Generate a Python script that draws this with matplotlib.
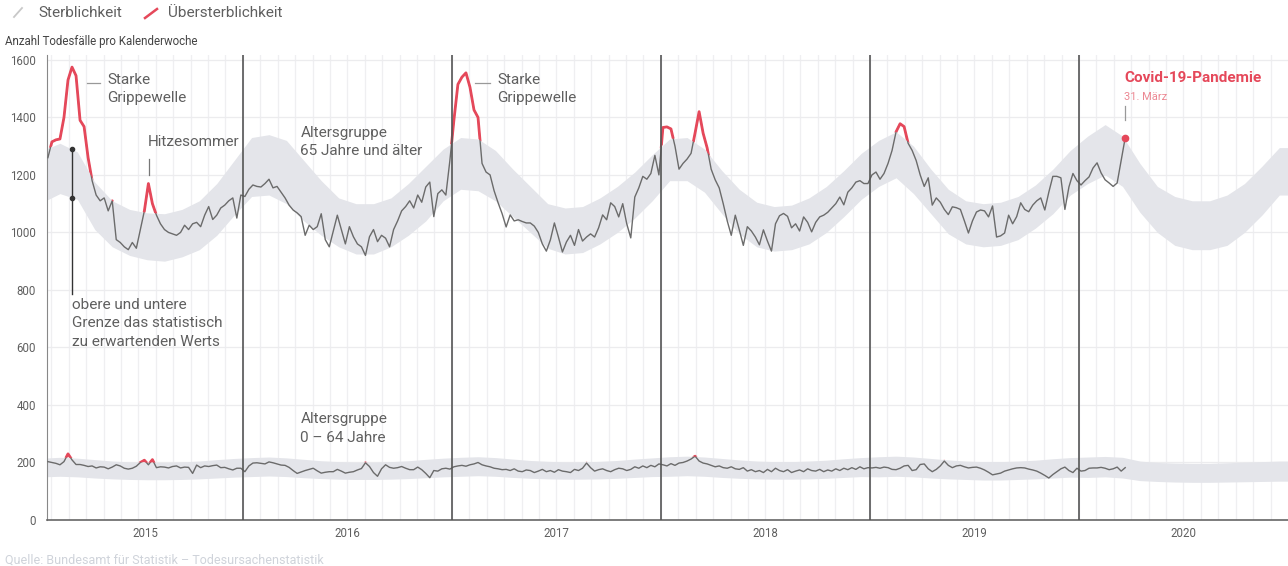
import numpy as np
import matplotlib
matplotlib.use("Agg")
import matplotlib.pyplot as plt
from matplotlib.patches import Polygon
from matplotlib.lines import Line2D

plt.rcParams["font.family"] = ["Roboto", "DejaVu Sans"]

# weekly deaths, age group 65+ (2015 starts with calendar week 4)
old_2015 = [1260, 1315, 1322, 1325, 1400, 1530, 1575, 1545, 1390, 1368, 1260, 1180,
            1130, 1110, 1120, 1075, 1110, 975, 965, 950, 940, 965, 945, 1010, 1075,
            1170, 1100, 1060, 1030, 1010, 1000, 995, 990, 1000, 1025, 1010, 1030,
            1035, 1020, 1060, 1090, 1045, 1060, 1085, 1095, 1110, 1120, 1050, 1130]
old_2016 = [1125, 1150, 1165, 1160, 1158, 1170, 1185, 1155, 1160, 1140, 1120, 1095,
            1078, 1068, 1055, 990, 1025, 1010, 1020, 1065, 975, 950, 1005, 1060, 1010,
            960, 1020, 985, 960, 950, 920, 985, 1010, 968, 990, 980, 950, 1010, 1040,
            1075, 1090, 1110, 1085, 1130, 1105, 1158, 1175, 1055, 1135, 1148, 1130, 1250]
old_2017 = [1390, 1515, 1540, 1555, 1505, 1426, 1400, 1240, 1210, 1200, 1145, 1103,
            1065, 1019, 1061, 1040, 1044, 1038, 1033, 1033, 1022, 1000, 960, 935, 974,
            1033, 984, 932, 967, 990, 955, 1010, 970, 984, 995, 984, 1016, 1061, 1044,
            1103, 1090, 1054, 1100, 1030, 981, 1123, 1155, 1195, 1185, 1205, 1268, 1200]
old_2018 = [1365, 1367, 1360, 1300, 1220, 1240, 1255, 1275, 1346, 1420, 1345, 1294,
            1220, 1183, 1155, 1100, 1040, 990, 1060, 1009, 955, 1020, 1005, 984, 957,
            1009, 970, 935, 1030, 1058, 1066, 1056, 1016, 1030, 1005, 1054, 1035, 1002,
            1035, 1054, 1060, 1070, 1085, 1100, 1123, 1096, 1140, 1155, 1175, 1180,
            1170, 1170]
old_2019 = [1200, 1210, 1185, 1205, 1240, 1285, 1350, 1378, 1368, 1310, 1285, 1250,
            1200, 1160, 1190, 1095, 1120, 1105, 1080, 1062, 1089, 1086, 1080, 1040, 998,
            1040, 1071, 1078, 1075, 1054, 1092, 984, 988, 998, 1060, 1030, 1055, 1103,
            1080, 1072, 1095, 1110, 1120, 1078, 1140, 1195, 1195, 1190, 1080, 1158,
            1205, 1180]
old_2020 = [1165, 1180, 1193, 1224, 1242, 1207, 1183, 1172, 1160, 1172, 1250, 1329]

# weekly deaths, age group 0-64
young_2015 = [203, 200, 197, 192, 203, 230, 209, 193, 193, 190, 186, 188, 181, 185,
              184, 178, 184, 192, 188, 180, 177, 180, 187, 200, 208, 192, 210, 182,
              185, 184, 181, 186, 188, 181, 184, 183, 162, 191, 182, 188, 186, 189,
              191, 182, 183, 178, 174, 180, 180]
young_2016 = [168, 188, 198, 199, 197, 195, 202, 199, 195, 191, 190, 183, 172, 162,
              167, 172, 176, 180, 171, 163, 166, 168, 168, 176, 170, 163, 166, 168,
              174, 179, 199, 186, 165, 152, 178, 192, 183, 180, 182, 186, 180, 175,
              175, 184, 175, 162, 147, 172, 170, 178, 180, 177]
young_2017 = [185, 188, 190, 187, 192, 195, 200, 192, 188, 185, 180, 178, 175, 176,
              172, 178, 170, 168, 174, 172, 165, 170, 176, 168, 172, 166, 175, 170,
              168, 165, 176, 172, 180, 198, 182, 170, 175, 178, 172, 168, 175, 180,
              178, 172, 176, 185, 180, 188, 182, 190, 185, 195]
young_2018 = [192, 188, 196, 190, 198, 200, 205, 212, 222, 205, 198, 195, 190, 185,
              188, 182, 180, 185, 178, 176, 182, 170, 175, 168, 172, 165, 176, 168,
              180, 172, 168, 175, 165, 170, 174, 168, 178, 172, 170, 176, 168, 174,
              170, 178, 172, 180, 175, 182, 176, 185, 178, 182]
young_2019 = [181, 183, 180, 184, 182, 176, 175, 180, 188, 190, 172, 175, 193, 195,
              178, 168, 176, 188, 205, 190, 182, 188, 190, 185, 181, 183, 184, 180,
              174, 166, 157, 160, 163, 170, 174, 178, 181, 182, 181, 177, 174, 170,
              163, 155, 146, 158, 168, 178, 184, 172, 165, 180]
young_2020 = [170, 172, 180, 181, 181, 183, 180, 175, 178, 184, 170, 182]

# monthly expected range (upper / lower bound), Jan 2015 - Dec 2020
old_upper = [1285, 1310, 1280, 1175, 1110, 1080, 1068, 1065, 1080, 1110, 1170, 1250,
             1330, 1340, 1320, 1250, 1180, 1120, 1100, 1100, 1120, 1170, 1230, 1290,
             1330, 1325, 1285, 1220, 1160, 1100, 1085, 1090, 1120, 1160, 1210, 1270,
             1325, 1330, 1290, 1215, 1150, 1105, 1090, 1095, 1120, 1160, 1215, 1275,
             1320, 1350, 1300, 1220, 1150, 1110, 1100, 1105, 1125, 1165, 1220, 1285,
             1335, 1375, 1335, 1240, 1160, 1125, 1110, 1110, 1130, 1170, 1230, 1295]
old_lower = [1105, 1135, 1115, 1010, 950, 920, 905, 900, 915, 940, 990, 1060,
             1125, 1130, 1100, 1040, 990, 950, 925, 925, 950, 990, 1040, 1110,
             1150, 1145, 1110, 1055, 1000, 945, 925, 930, 960, 1000, 1050, 1110,
             1180, 1180, 1140, 1065, 995, 950, 935, 940, 960, 1000, 1055, 1115,
             1160, 1190, 1135, 1065, 995, 960, 950, 955, 975, 1015, 1065, 1130,
             1170, 1200, 1160, 1070, 1000, 955, 940, 940, 955, 1000, 1060, 1130]
young_upper = [215, 218, 215, 210, 205, 202, 200, 200, 202, 205, 210, 214,
               217, 219, 216, 211, 206, 203, 201, 201, 203, 206, 211, 215,
               218, 220, 217, 212, 207, 204, 202, 202, 204, 207, 212, 216,
               220, 222, 219, 214, 209, 205, 203, 203, 205, 208, 213, 217,
               220, 222, 219, 214, 209, 205, 203, 203, 205, 208, 213, 217,
               219, 221, 218, 205, 200, 198, 197, 197, 199, 201, 203, 205]
young_lower = [150, 152, 150, 146, 143, 141, 140, 140, 141, 143, 146, 149,
               151, 153, 151, 147, 144, 142, 141, 141, 142, 144, 147, 150,
               152, 154, 152, 148, 145, 143, 142, 142, 143, 145, 148, 151,
               152, 154, 152, 148, 145, 143, 142, 142, 143, 145, 148, 151,
               150, 152, 150, 146, 143, 141, 139, 139, 141, 143, 146, 149,
               148, 150, 146, 137, 134, 132, 131, 131, 132, 133, 134, 135]

years = [2015, 2016, 2017, 2018, 2019, 2020]
y_ticks = [0, 200, 400, 600, 800, 1000, 1200, 1400, 1600]

GRAY = "#6b6b6b"
TEXT = "#5f5f5f"
RED = "#e5485a"
BAND = "#e4e5ea"


def weekly_x(series_by_year, first_week):
    xs, ys = [], []
    for year, vals in series_by_year:
        start = first_week if year == 2015 else 1
        for i, v in enumerate(vals):
            xs.append(year + (start + i - 0.5) / 52)
            ys.append(v)
    return np.array(xs), np.array(ys)


old_x, old_y = weekly_x(zip(years, [old_2015, old_2016, old_2017, old_2018,
                                     old_2019, old_2020]), 4)
young_x, young_y = weekly_x(zip(years, [young_2015, young_2016, young_2017,
                                         young_2018, young_2019, young_2020]), 4)

month_x = np.array([y + (m + 0.5) / 12 for y in years for m in range(12)])
band_x = np.r_[2015.0, month_x, 2021.0]


def pad(vals):
    return np.r_[vals[0], vals, vals[-1]]


fig = plt.figure(figsize=(12.88, 5.66), dpi=100)
ax = fig.add_axes([47 / 1288, 1 - 520 / 566, 1241 / 1288, 465 / 566])
ax.set_xlim(2015.063, 2021.0)
ax.set_ylim(0, 1617)

# grid: monthly verticals, horizontals every 200
for mx in [y + m / 12 for y in years for m in range(12)]:
    ax.axvline(mx, color="#efeff1", lw=0.9, zorder=0)
for yt in y_ticks[1:]:
    ax.axhline(yt, color="#ececee", lw=0.9, zorder=0)

for upper, lower, xs, ys in [(old_upper, old_lower, old_x, old_y),
                             (young_upper, young_lower, young_x, young_y)]:
    up = pad(upper)
    lo = pad(lower)
    ax.fill_between(band_x, lo, up, color=BAND, lw=0, zorder=1)
    ax.plot(xs, ys, color=GRAY, lw=1.0, zorder=3)
    red_line, = ax.plot(xs, ys, color=RED, lw=2.0, zorder=4,
                        solid_joinstyle="round")
    clip = Polygon(np.c_[np.r_[band_x, 2021.0, 2015.0],
                         np.r_[up, 5000, 5000]],
                   closed=True, transform=ax.transData)
    red_line.set_clip_path(clip)

# year separators
for y in years[1:]:
    ax.axvline(y, color="#555555", lw=1.2, zorder=5)

for side in ["top", "right"]:
    ax.spines[side].set_visible(False)
ax.spines["left"].set_color("#888888")
ax.spines["bottom"].set_color("#666666")
ax.spines["bottom"].set_linewidth(1.2)

ax.set_yticks(y_ticks)
ax.set_yticklabels([str(t) for t in y_ticks])
label_x = [(2015.063 + 2016) / 2] + [y + 0.5 for y in years[1:]]
ax.set_xticks(label_x)
ax.set_xticklabels([str(y) for y in years])
ax.tick_params(axis="both", length=0, labelsize=8.3, labelcolor=TEXT)
ax.tick_params(axis="y", pad=8)
ax.tick_params(axis="x", pad=5)

# annotations
ann = dict(color=TEXT, fontsize=11, linespacing=1.4, va="center", ha="left")
ax.text(2015.350, 1499, "Starke\nGrippewelle", **ann)
ax.plot([2015.252, 2015.315], [1520, 1520], color="#999999", lw=0.9)
ax.text(2017.217, 1499, "Starke\nGrippewelle", **ann)
ax.plot([2017.110, 2017.183], [1520, 1520], color="#999999", lw=0.9)
ax.text(2015.545, 1315, "Hitzesommer", **ann)
ax.plot([2015.553, 2015.553], [1200, 1255], color="#777777", lw=0.9)
ax.text(2016.275, 1315, "Altersgruppe\n65 Jahre und älter", **ann)
ax.text(2016.275, 318, "Altersgruppe\n0 – 64 Jahre", **ann)

gx = 2015 + 9.5 / 52
g_up = np.interp(gx, band_x, pad(old_upper))
g_lo = np.interp(gx, band_x, pad(old_lower))
ax.plot([gx, gx], [785, g_up], color="#333333", lw=1.0, zorder=6)
ax.plot([gx, gx], [g_up, g_lo], "o", color="#333333", ms=3, zorder=6)
ax.text(gx, 772, "obere und untere\nGrenze das statistisch\nzu erwartenden Werts",
        color=TEXT, fontsize=11, linespacing=1.4, va="top", ha="left")

ax.plot(old_x[-1], old_y[-1], "o", color=RED, ms=4.5, zorder=7)
ax.plot([old_x[-1], old_x[-1]], [1390, 1440], color="#999999", lw=0.9)
ax.text(old_x[-1] - 0.005, 1537, "Covid-19-Pandemie", color=RED, fontsize=11,
        fontweight="bold", va="center", ha="left")
ax.text(old_x[-1] - 0.005, 1472, "31. März", color="#ec8893", fontsize=8,
        va="center", ha="left")

# header legend
fig.add_artist(Line2D([14 / 1288, 22 / 1288], [1 - 17 / 566, 1 - 8 / 566],
                      color="#c8c8c8", lw=1.3))
fig.text(38 / 1288, 1 - 13 / 566, "Sterblichkeit", color=TEXT, fontsize=11,
         va="center")
fig.add_artist(Line2D([145 / 1288, 157 / 1288], [1 - 18 / 566, 1 - 9 / 566],
                      color=RED, lw=1.8))
fig.text(168 / 1288, 1 - 13 / 566, "Übersterblichkeit", color=TEXT, fontsize=11,
         va="center")
fig.text(5 / 1288, 1 - 42 / 566, "Anzahl Todesfälle pro Kalenderwoche",
         color="#444444", fontsize=8.3, va="center")
fig.text(5 / 1288, 1 - 560 / 566,
         "Quelle: Bundesamt für Statistik – Todesursachenstatistik",
         color="#cfd3da", fontsize=9, va="center")

fig.savefig("out.png", dpi=100)
